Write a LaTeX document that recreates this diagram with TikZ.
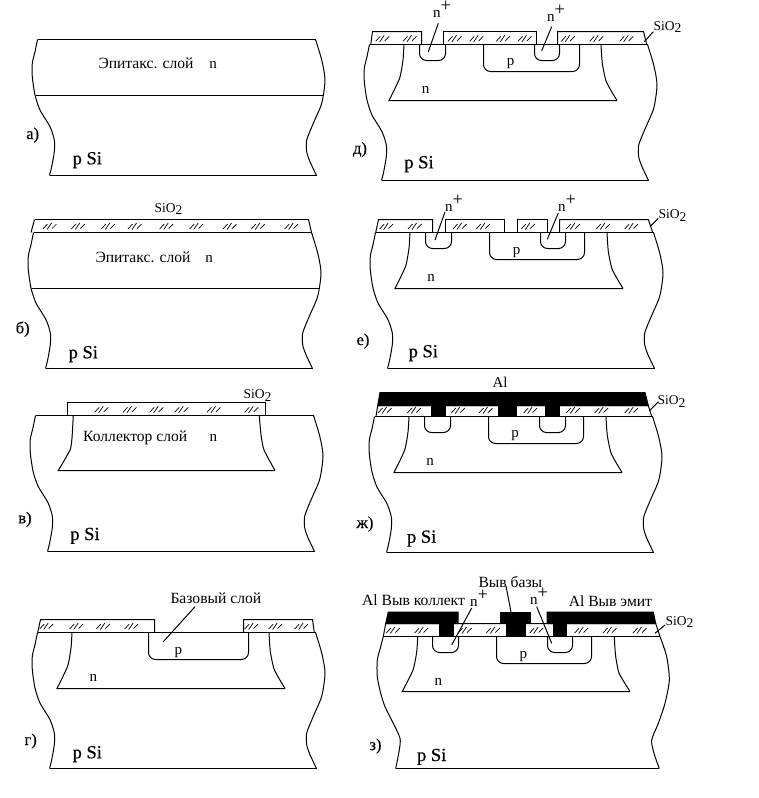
\documentclass[tikz,border=0pt]{standalone}
\usepackage{fontspec}
\setmainfont{Liberation Serif}
\newfontfamily\heavier[FakeBold=0.5]{Liberation Serif}
\tikzset{
  x=1pt,y=-1pt,
  every path/.style={line width=1pt,line join=miter},
  layer/.style={draw=black},
  metal/.style={draw=black,fill=black},
  txt/.style={inner sep=0pt,anchor=base west,font=\fontsize{15.6}{17}\selectfont},
  lett/.style={inner sep=0pt,anchor=base,font=\fontsize{15}{17}\selectfont},
  oxide/.style={inner sep=0pt,anchor=base west,font=\fontsize{13.5}{15}\selectfont},
  substrate/.style={inner sep=0pt,anchor=base,font=\heavier\fontsize{18.5}{20}\selectfont},
  tag/.style={inner sep=0pt,anchor=base,font=\heavier\fontsize{16.5}{18}\selectfont},
  hatchmark/.style={line width=0.7pt},
  well/.style={draw=black,rounded corners=7pt},
}
\newcommand{\mysides}{%
  \draw plot[smooth,tension=.45] coordinates {(37.5,39.5)(35,51.7)(32.3,63.3)(32.3,76.7)(35,95)(40,110)(50,126.7)(54.3,140)(54.3,151.7)(51.7,166.7)(49.5,175.5)};
  \draw plot[smooth,tension=.45] coordinates {(316.5,175.5)(310,161.7)(306.7,151.7)(306.7,140)(313.3,123.3)(321.7,103.3)(325,80)(321.7,60)(315.5,39.5)};
  \draw (49.5,175.5) -- (316.5,175.5);
}
\newcommand{\mytop}{\draw (37.5,39.5) -- (315.5,39.5);}
\newcommand{\mycollector}{\draw plot[smooth,tension=.35] coordinates {(72,39.5)(71,55)(67.6,73.3)(57,95.5)} -- (285,95.5) plot[smooth,tension=.35] coordinates {(285,95.5)(274.3,76.7)(270.3,58.3)(269,39.5)};}
\newcommand{\hm}[2]{%
  \draw[hatchmark] (#1-7,#2+3) -- (#1-2.5,#2-2) (#1-3,#2+3.5) -- (#1+1.5,#2-3) (#1+2,#2+2.5) -- (#1+6.5,#2-2);}
\newcommand{\leaderln}[4]{\coordinate (la) at (#1,#2); \coordinate (lb) at (#3,#4); \draw (la) -- (lb);}
% well: left x, right x, top y, bottom y
\newcommand{\wellU}[4]{\draw[well] (#1,#3) -- (#1,#4) -- (#2,#4) -- (#2,#3);}
\newcommand{\nplus}{n\raisebox{6pt}[0pt][0pt]{\fontsize{18.5}{19}\selectfont +}}
\newcommand{\sio}{SiO\raisebox{-.22em}{2}}
\begin{document}
\begin{tikzpicture}
\useasboundingbox (0,0) rectangle (758,798);
\fill[white] (0,0) rectangle (758,798);

% panel a
\begin{scope}
 \mysides\mytop
 \draw (35.5,95.5) -- (322.5,95.5);
\end{scope}
\node[txt] (a1) at (98,68.3) {Эпитакс. слой};
\node[lett] (a2) at (213,68.3) {n};
\node[substrate] (a3) at (87.3,164.3) {p Si};
\node[tag] (a4) at (32.7,139) {а)};

% panel b
\begin{scope}[shift={(-4,193)}]
 \mysides
 \draw (35,39.5) -- (38.5,26.5) (312.5,26.5) -- (315.5,39.5);
 \draw (37.5,39.5) -- (315.5,39.5) (38.5,26.5) -- (312.5,26.5);
 \draw (35.5,95.5) -- (322.5,95.5);
\end{scope}
\foreach \p in {50,78.3,108.3,135,166.7,196.7,230,258.3,291.7} {\hm{\p}{226}}
\node[txt] (b1) at (95,262.3) {Эпитакс. слой};
\node[lett] (b2) at (209,262.3) {n};
\node[oxide] (b3) at (154,212) {\sio};
\node[substrate] (b4) at (83.3,358.3) {p Si};
\node[tag] (b5) at (22.7,333.3) {б)};

% panel v
\begin{scope}[shift={(-2,376)}]
 \mysides\mytop
\end{scope}
\draw[layer] (67.5,415.5) -- (67.5,402.5) -- (265.5,402.5) -- (265.5,415.5);
\draw plot[smooth,tension=.35] coordinates {(73.3,415.5)(72,438)(70,450)(58.3,470.5)} -- (275,470.5) plot[smooth,tension=.35] coordinates {(275,470.5)(264,450)(261,435)(259.3,415.5)};
\foreach \p in {101.7,130,156.7,181.7,214,251.7} {\hm{\p}{409.3}}
\node[txt] (c1) at (82.7,441.7) {Коллектор слой};
\node[lett] (c2) at (213.3,441.7) {n};
\node[oxide] (c3) at (243,398.5) {\sio};
\node[substrate] (c4) at (85,540) {p Si};
\node[tag] (c5) at (25,523.3) {в)};

% panel g
\begin{scope}[shift={(0,593)}]
 \mysides\mytop\mycollector
\end{scope}
\draw[layer] (37.7,632.5) -- (40.5,619.5) -- (154.5,619.5) -- (154.5,632.5);
\draw[layer] (243.5,632.5) -- (243.5,619.5) -- (312.5,619.5) -- (314.3,632.5);
\wellU{148.5}{248.5}{632.5}{659.5}
\foreach \p in {46.7,76.7,103.3,131.7,251.7,275.7,301.7} {\hm{\p}{626}}
\node[txt] (d1) at (170,603.3) {Базовый слой};
\leaderln{195}{606.7}{163.3}{641.7}
\node[lett] (d2) at (178.3,654) {p};
\node[lett] (d3) at (93.3,681.7) {n};
\node[substrate] (d4) at (87.3,758.3) {p Si};
\node[tag] (d5) at (30.7,745) {г)};

% panel d
\begin{scope}[shift={(332,5)}]
 \mysides\mytop\mycollector
\end{scope}
\draw[layer] (370.7,44.5) -- (372.5,31.5) -- (421.5,31.5) -- (421.5,44.5);
\draw[layer] (443.5,44.5) -- (443.5,31.5) -- (536.5,31.5) -- (536.5,44.5);
\draw[layer] (557.5,44.5) -- (557.5,31.5) -- (643.5,31.5) -- (646.7,44.5);
\wellU{419.5}{445.5}{44.5}{60.5}
\wellU{534.5}{559.5}{44.5}{60.5}
\wellU{483.5}{579.5}{44.5}{71.5}
\foreach \p in {382.7,410,455,476.7,503.3,525,568.3,596.7,626.7} {\hm{\p}{38.3}}
\node[lett] (e1) at (442,17.5) {\nplus};
\node[lett] (e2) at (556,21.5) {\nplus};
\leaderln{438.3}{23.3}{428.3}{51.7}
\leaderln{551.7}{26.7}{541.7}{50.7}
\node[oxide] (e3) at (653,30) {\sio};
\leaderln{653.3}{31.7}{644.3}{41.7}
\node[lett] (e4) at (510.7,65) {p};
\node[lett] (e5) at (425.7,93.3) {n};
\node[substrate] (e6) at (419,168.3) {p Si};
\node[tag] (e7) at (360,153.5) {д)};

% panel e
\begin{scope}[shift={(338,193)}]
 \mysides\mytop\mycollector
\end{scope}
\draw[layer] (375.7,232.5) -- (378.5,219.5) -- (432.5,219.5) -- (432.5,232.5);
\draw[layer] (445.5,232.5) -- (445.5,219.5) -- (504.5,219.5) -- (504.5,232.5);
\draw[layer] (517.5,232.5) -- (517.5,219.5) -- (547.5,219.5) -- (547.5,232.5);
\draw[layer] (559.5,232.5) -- (559.5,219.5) -- (648.3,219.5) -- (652.7,232.5);
\wellU{425.5}{451.5}{232.5}{248.5}
\wellU{540.5}{565.5}{232.5}{248.5}
\wellU{489.5}{584.5}{232.5}{259.5}
\foreach \p in {386.7,415,460,483.3,528.3,573.3,603.3,631.7} {\hm{\p}{226}}
\node[lett] (f1) at (454,211) {\nplus};
\node[lett] (f2) at (567,211) {\nplus};
\leaderln{445}{212}{435}{240}
\leaderln{558.3}{213}{547.3}{239.3}
\node[oxide] (f3) at (658,218.5) {\sio};
\leaderln{658.3}{218.3}{650}{226.7}
\node[lett] (f4) at (516.7,254) {p};
\node[lett] (f5) at (431,281) {n};
\node[substrate] (f6) at (423.3,357.3) {p Si};
\node[tag] (f7) at (363,345) {е)};

% panel zh
\begin{scope}[shift={(337,377)}]
 \mysides\mytop\mycollector
\end{scope}
\draw[layer] (376,416.5) -- (377.7,405.5) -- (648.3,405.5) -- (651.7,416.5);
\fill[metal] (377.7,405.5) -- (380,392.5) -- (645,392.5) -- (648.3,405.5) -- cycle;
\foreach \a/\b in {431.5/445.5,498/516.5,545/559} {\fill[metal] (\a,405) rectangle (\b,416.5);}
\wellU{424.5}{450.5}{416.5}{432.5}
\wellU{539.5}{565.5}{416.5}{432.5}
\wellU{488.5}{583.5}{416.5}{443.5}
\foreach \p in {385,414.3,458.3,486,530.7,573.3,601.7,631.7} {\hm{\p}{410}}
\node[lett] (g1) at (500,387.7) {Al};
\node[oxide] (g2) at (657,404.5) {\sio};
\leaderln{658.3}{401.7}{649.3}{411}
\node[lett] (g3) at (515,437.3) {p};
\node[lett] (g4) at (430,465) {n};
\node[substrate] (g5) at (421.7,542.7) {p Si};
\node[tag] (g6) at (365,528) {ж)};

% panel z
\draw plot[smooth,tension=.45] coordinates {(383.3,636.5)(380.7,646.7)(377.3,660)(377.3,676.7)(380.7,693.3)(385,706.7)(393.3,723.3)(400,738.3)(399.3,750)(395.7,768.5)};
\draw plot[smooth,tension=.45] coordinates {(659.3,768.5)(654,753.3)(651.7,740)(658.3,723.3)(665,703.3)(669.3,680)(666.7,656.7)(660,636.5)};
\draw (395.7,768.5) -- (659.3,768.5);
\draw (383.3,636.5) -- (660,636.5);
\draw plot[smooth,tension=.35] coordinates {(417.7,636.5)(416.7,652)(413,670)(402.3,691.5)} -- (630,691.5) plot[smooth,tension=.35] coordinates {(630,691.5)(619,673)(615.5,655)(614.3,636.5)};
\draw[layer] (383.3,636.5) -- (385.7,623.5) -- (655.7,623.5) -- (660,636.5);
\fill[metal] (385.7,623.5) -- (388.3,612) -- (458,612) -- (458,623.5) -- cycle;
\fill[metal] (500,612) rectangle (530,623.5);
\fill[metal] (547,623.5) -- (547,612) -- (653.3,612) -- (655.7,623.5) -- cycle;
\foreach \a/\b in {439.5/453.5,506.5/525,553.5/566.5} {\fill[metal] (\a,623) rectangle (\b,636.5);}
\wellU{432.5}{458.5}{636.5}{652.5}
\wellU{547.5}{572.5}{636.5}{652.5}
\wellU{496.5}{591.5}{636.5}{663.5}
\foreach \p in {393.3,421.7,465,493.3,536.7,581.7,610,640} {\hm{\p}{630}}
\node[txt] (h1) at (361.7,605) {Al Выв коллект};
\node[lett] (h2) at (479,606) {\nplus};
\node[txt] (h3) at (478,587.7) {Выв базы};
\node[lett] (h4) at (539,604) {\nplus};
\node[txt] (h5) at (568.3,606.7) {Al Выв эмит};
\node[oxide] (h6) at (665,625) {\sio};
\leaderln{506}{586}{511}{612}
\leaderln{471.7}{608}{451.7}{645}
\leaderln{536.7}{606.7}{551.7}{643.3}
\leaderln{665}{625}{655}{633.3}
\node[lett] (h7) at (523.3,658.3) {p};
\node[lett] (h8) at (438.3,685) {n};
\node[substrate] (h9) at (431.7,761) {p Si};
\node[tag] (h10) at (375.5,750) {з)};
\end{tikzpicture}
\end{document}
